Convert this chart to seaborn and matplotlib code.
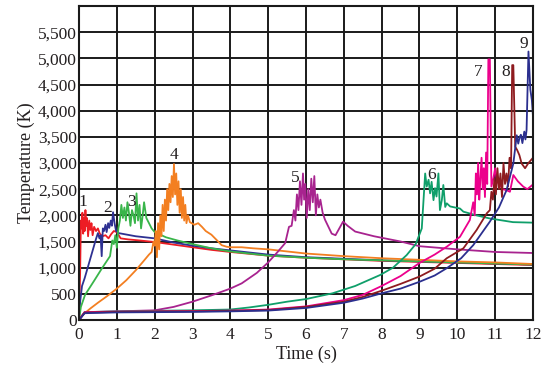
import matplotlib
matplotlib.use("Agg")
import matplotlib.pyplot as plt
from matplotlib.ticker import FuncFormatter, MultipleLocator
import seaborn as sns
import pandas as pd

# Temperature histories of nine runs (time in s, temperature in K)
t1 = [0, 0.03, 0.05, 0.07, 0.09, 0.11, 0.13, 0.15, 0.17, 0.19, 0.21, 0.24, 0.27, 0.30, 0.33,
      0.36, 0.40, 0.45, 0.50, 0.55, 0.62, 0.70, 0.78, 0.85, 0.92, 1.00, 1.10, 1.30, 1.60, 2.0,
      2.5, 3.0, 3.5, 4.0, 5.0, 6.0, 7.0, 8.0, 9.0, 10.0, 11.0, 12.0]
T1 = [0, 900, 1900, 1750, 2050, 1650, 1950, 1700, 2100, 1800, 1950, 1600, 1900, 1720, 1850,
      1620, 1780, 1700, 1750, 1650, 1600, 1620, 1560, 1640, 1700, 1680, 1560, 1540, 1520, 1490,
      1440, 1390, 1340, 1300, 1230, 1190, 1160, 1130, 1110, 1090, 1070, 1050]

t2 = [0, 0.03, 0.08, 0.15, 0.25, 0.35, 0.45, 0.50, 0.54, 0.57, 0.60, 0.63, 0.66, 0.70, 0.73,
      0.77, 0.80, 0.84, 0.87, 0.90, 0.94, 0.98, 1.05, 1.2, 1.5, 2.0, 2.5, 3.0, 3.5, 4.0, 5.0,
      6.0, 7.0, 8.0, 9.0, 10.0, 11.0, 12.0]
T2 = [0, 350, 650, 800, 1050, 1300, 1550, 1660, 1560, 1620, 1220, 1750, 1700, 1820, 1680,
      1850, 1760, 1900, 1800, 2060, 1850, 1700, 1660, 1640, 1600, 1560, 1480, 1420, 1370, 1330,
      1250, 1200, 1170, 1140, 1120, 1100, 1080, 1060]

t3 = [0, 0.05, 0.16, 0.4, 0.6, 0.82, 0.88, 0.92, 0.96, 1.0, 1.04, 1.08, 1.12, 1.16, 1.20,
      1.24, 1.28, 1.32, 1.36, 1.40, 1.44, 1.48, 1.52, 1.56, 1.60, 1.64, 1.68, 1.72, 1.78, 1.85,
      1.92, 2.0, 2.3, 2.6, 3.0, 3.5, 4.0, 5.0, 6.0, 7.0, 8.0, 9.0, 10.0, 11.0, 12.0]
T3 = [0, 250, 480, 750, 980, 1220, 1520, 1450, 1620, 1380, 1750, 1900, 2200, 1950, 2150,
      1900, 2250, 2050, 1800, 2100, 2000, 1850, 2420, 1900, 2200, 1750, 1980, 2250, 1950, 1850,
      1750, 1680, 1580, 1520, 1450, 1370, 1310, 1230, 1190, 1160, 1140, 1120, 1100, 1080, 1060]

t4 = [0, 0.1, 0.3, 0.5, 0.75, 1.0, 1.25, 1.5, 1.7, 1.85, 1.92, 1.97, 2.0, 2.03, 2.06, 2.09,
      2.12, 2.15, 2.18, 2.21, 2.24, 2.27, 2.30, 2.33, 2.36, 2.39, 2.42, 2.45, 2.48, 2.51, 2.54,
      2.57, 2.60, 2.63, 2.66, 2.69, 2.72, 2.75, 2.78, 2.81, 2.84, 2.88, 2.93, 3.05, 3.15, 3.25,
      3.35, 3.5, 3.65, 3.77, 3.9, 4.0, 4.3, 4.6, 5.0, 6.0, 7.0, 8.0, 9.0, 10.0, 11.0, 12.0]
T4 = [0, 100, 220, 330, 460, 600, 760, 950, 1120, 1250, 1300, 1500, 1420, 1700, 1200, 1850,
      1350, 2000, 1600, 2200, 1700, 2300, 1900, 2500, 2100, 2600, 2250, 2750, 2350, 2980, 2400,
      2800, 2200, 2650, 2050, 2500, 1950, 2350, 1900, 2200, 1850, 2000, 1870, 1820, 1850, 1780,
      1700, 1630, 1520, 1430, 1400, 1390, 1390, 1370, 1350, 1270, 1220, 1180, 1150, 1120, 1100, 1070]

t5 = [0, 0.15, 1.0, 2.0, 2.5, 3.0, 3.5, 4.0, 4.3, 4.7, 5.0, 5.25, 5.45, 5.55, 5.62, 5.68,
      5.72, 5.76, 5.80, 5.84, 5.88, 5.92, 5.95, 5.98, 6.02, 6.06, 6.10, 6.14, 6.18, 6.22, 6.26,
      6.30, 6.34, 6.38, 6.44, 6.50, 6.58, 6.68, 6.78, 6.88, 6.98, 7.1, 7.3, 7.8, 8.5, 9.0, 10.0,
      11.0, 12.0]
T5 = [0, 150, 165, 185, 250, 350, 470, 600, 700, 900, 1100, 1300, 1470, 1780, 1800, 2100,
      1900, 2400, 2100, 2650, 2200, 2800, 2300, 2600, 1950, 2500, 2100, 2700, 2250, 2750, 2000,
      2400, 2150, 2300, 2050, 1920, 1800, 1650, 1620, 1750, 1880, 1800, 1690, 1600, 1500, 1410,
      1350, 1300, 1280]

t6 = [0, 0.15, 1.0, 2.0, 3.0, 4.0, 4.5, 5.0, 5.5, 6.0, 6.7, 7.3, 7.96, 8.3, 8.66, 8.9, 9.06,
      9.15, 9.19, 9.24, 9.28, 9.32, 9.37, 9.41, 9.45, 9.50, 9.54, 9.59, 9.63, 9.68, 9.72, 9.81,
      10.07, 10.16, 10.5, 10.86, 11.47, 12.0]
T6 = [0, 150, 165, 175, 185, 200, 240, 290, 350, 400, 510, 650, 860, 1000, 1240, 1450, 1750,
      2800, 2550, 2680, 2420, 2640, 2290, 2520, 2360, 2800, 2100, 2290, 2580, 2160, 2230, 2170,
      2130, 2070, 2000, 1940, 1870, 1860]

t7 = [0, 0.15, 1.0, 2.0, 3.0, 4.0, 5.0, 6.0, 7.0, 7.5, 8.0, 8.5, 9.0, 9.4, 9.72, 10.07, 10.33,
      10.42, 10.46, 10.49, 10.52, 10.55, 10.58, 10.61, 10.64, 10.67, 10.70, 10.73, 10.76, 10.79,
      10.82, 10.86, 10.90, 10.95, 11.0, 11.05, 11.1, 11.2, 11.3, 11.39, 11.48, 11.6, 11.74, 11.85, 12.0]
T7 = [0, 150, 160, 165, 170, 180, 200, 260, 380, 480, 650, 840, 1090, 1250, 1400, 1590, 1910,
      2250, 2000, 2800, 2400, 3000, 2300, 2700, 3100, 2500, 2900, 2350, 3200, 2600,
      4980, 4980, 2550, 2700, 2900, 2650, 2600, 2500, 2480, 2450, 2770, 2650, 2550, 2500, 2590]

t8 = [0, 0.15, 1.0, 2.0, 3.0, 4.0, 5.0, 6.0, 7.0, 7.5, 8.0, 8.5, 9.0, 9.4, 9.72, 10.16, 10.51,
      10.78, 10.86, 10.90, 10.94, 10.98, 11.02, 11.06, 11.10, 11.14, 11.18, 11.22, 11.26, 11.30,
      11.34, 11.38, 11.42, 11.45, 11.48, 11.53, 11.58, 11.64, 11.7, 11.79, 11.88, 12.0]
T8 = [0, 140, 155, 160, 165, 175, 190, 250, 350, 440, 560, 690, 830, 980, 1180, 1370, 1720,
      2040, 2100, 2450, 2300, 2700, 2400, 2900, 2500, 2800, 2350, 3000, 2600, 2800,
      2550, 3100, 2900, 4870, 4870, 3310, 3250, 3150, 2990, 2900, 3000, 3100]

t9 = [0, 0.15, 1.0, 2.0, 3.0, 4.0, 5.0, 6.0, 7.0, 7.5, 8.0, 8.5, 9.0, 9.4, 9.72, 10.1, 10.42,
      10.86, 11.1, 11.3, 11.48, 11.57, 11.61, 11.65, 11.68, 11.72, 11.77, 11.80, 11.83, 11.88,
      11.93, 11.97, 12.0]
T9 = [0, 130, 145, 150, 155, 165, 180, 230, 330, 410, 510, 600, 730, 850, 990, 1180, 1430,
      1880, 2150, 2480, 2990, 3530, 3370, 3500, 3540, 3380, 3600, 3450, 3630, 5130,
      4400, 4200, 3890]

runs = ["1", "2", "3", "4", "5", "6", "7", "8", "9"]
times = [t1, t2, t3, t4, t5, t6, t7, t8, t9]
temps = [T1, T2, T3, T4, T5, T6, T7, T8, T9]
colors = ["#ed1c24", "#2e3192", "#39b54a", "#f37f21", "#a8238f",
          "#0f9f6a", "#ec008c", "#8e1b1f", "#2b2f8f"]

# run label text and where it sits (time, temperature)
label_pos = [(0.11, 2260), (0.75, 2140), (1.39, 2260), (2.51, 3150), (5.71, 2720),
             (9.32, 2770), (10.56, 4740), (11.29, 4740), (11.76, 5280)]

df = pd.concat(
    [pd.DataFrame({"Time": t, "Temp": T, "run": r}) for r, t, T in zip(runs, times, temps)],
    ignore_index=True,
)

sns.set_style("white")
plt.rcParams["font.family"] = ["Liberation Serif", "DejaVu Serif"]

fig = plt.figure(figsize=(5.43, 3.69), dpi=100)
ax = fig.add_axes([79 / 543, 1 - 320 / 369, (533 - 79) / 543, (320 - 6) / 369])

sns.lineplot(data=df, x="Time", y="Temp", hue="run", hue_order=runs,
             palette=dict(zip(runs, colors)), sort=False, estimator=None,
             legend=False, linewidth=1.3, ax=ax)

for r, (lx, ly) in zip(runs, label_pos):
    ax.text(lx, ly, r, fontsize=12.5, ha="center", va="center", color="#231f20")

ax.set_xlim(0, 12)
ax.set_ylim(0, 6000)
ax.xaxis.set_major_locator(MultipleLocator(1))
ax.set_yticks(range(0, 6000, 500))
ax.yaxis.set_major_formatter(FuncFormatter(lambda v, p: f"{int(v):,}"))
ax.grid(True, color="#1a1a1a", linewidth=1.4)
ax.set_axisbelow(True)
for s in ax.spines.values():
    s.set_color("#1a1a1a")
    s.set_linewidth(1.5)
ax.tick_params(axis="both", length=0, labelsize=12.5, colors="#231f20")
ax.tick_params(axis="x", pad=5)
ax.tick_params(axis="y", pad=1.5)
ax.set_xlabel("Time (s)", fontsize=13, labelpad=2, color="#231f20")
ax.set_ylabel("Temperature (K)", fontsize=13, labelpad=2, color="#231f20")

fig.savefig("out.png", dpi=100)
